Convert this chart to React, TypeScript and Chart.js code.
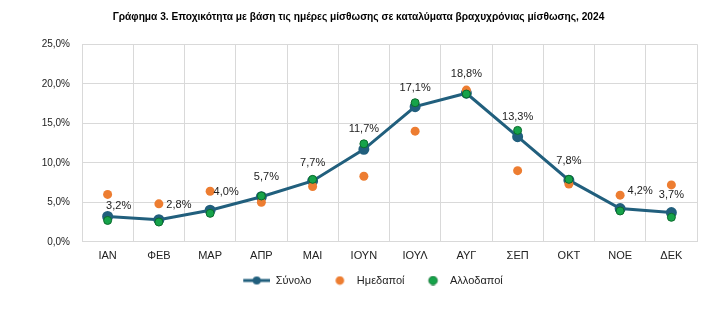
import React, { useEffect, useRef } from "react";
import { Chart, registerables } from "chart.js";

Chart.register(...registerables);

const titleText =
  "Γράφημα 3. Εποχικότητα με βάση τις ημέρες μίσθωσης σε καταλύματα βραχυχρόνιας μίσθωσης, 2024";
const months = ["ΙΑΝ", "ΦΕΒ", "ΜΑΡ", "ΑΠΡ", "ΜΑΙ", "ΙΟΥΝ", "ΙΟΥΛ", "ΑΥΓ", "ΣΕΠ", "ΟΚΤ", "ΝΟΕ", "ΔΕΚ"];
const totalValues = [3.2, 2.8, 4.0, 5.7, 7.7, 11.7, 17.1, 18.8, 13.3, 7.8, 4.2, 3.7];
const domesticValues = [6.0, 4.8, 6.4, 5.0, 7.0, 8.3, 14.0, 19.2, 9.0, 7.3, 5.9, 7.2];
const foreignValues = [2.7, 2.5, 3.6, 5.8, 7.9, 12.4, 17.6, 18.7, 14.1, 7.9, 3.9, 3.1];
const seriesNames = ["Σύνολο", "Ημεδαποί", "Αλλοδαποί"];

const FONT = "'Liberation Sans', Arial, sans-serif";
const LINE_COLOR = "#215f7d";
const ORANGE = "#ed7d31";
const GREEN = "#16a34a";
const GREEN_BORDER = "#0b6a2c";

// label offsets (dx, dy) relative to point, style only
const labelOffsets: [number, number][] = [
  [11, -11], [20, -15], [16, -18], [5, -20], [0, -18], [0, -20],
  [0, -19], [0, -19], [0, -20], [0, -19], [20, -18], [0, -18],
];

function fmt(v: number) {
  return v.toFixed(1).replace(".", ",") + "%";
}

const ICON_W = 36;

function makeLineIcon(): HTMLCanvasElement {
  const c = document.createElement("canvas");
  c.width = ICON_W;
  c.height = 10;
  const ctx = c.getContext("2d")!;
  ctx.strokeStyle = LINE_COLOR;
  ctx.lineWidth = 3;
  ctx.beginPath();
  ctx.moveTo(9, 5);
  ctx.lineTo(36, 5);
  ctx.stroke();
  ctx.fillStyle = LINE_COLOR;
  ctx.beginPath();
  ctx.arc(22.5, 5, 4, 0, Math.PI * 2);
  ctx.fill();
  return c;
}

function makeDotIcon(fill: string, stroke: string | null): HTMLCanvasElement {
  const c = document.createElement("canvas");
  c.width = ICON_W;
  c.height = 10;
  const ctx = c.getContext("2d")!;
  ctx.fillStyle = fill;
  ctx.beginPath();
  ctx.arc(24.5, 5, 4.3, 0, Math.PI * 2);
  ctx.fill();
  if (stroke) {
    ctx.strokeStyle = stroke;
    ctx.lineWidth = 0.8;
    ctx.stroke();
  }
  return c;
}

const labelPlugin = {
  id: "totalLabels",
  afterDatasetsDraw(chart: any) {
    const meta = chart.getDatasetMeta(0);
    const ctx = chart.ctx;
    ctx.save();
    ctx.font = `11px ${FONT}`;
    ctx.fillStyle = "#222";
    ctx.textAlign = "center";
    ctx.textBaseline = "middle";
    meta.data.forEach((pt: any, i: number) => {
      const [dx, dy] = labelOffsets[i];
      ctx.fillText(fmt(totalValues[i]), pt.x + dx, pt.y + dy);
    });
    ctx.restore();
  },
};

const boxShift = {
  id: "boxShift",
  afterLayout(chart: any) {
    if (chart.legend) {
      chart.legend.left += 16;
      chart.legend.right += 16;
    }
    if (chart.titleBlock) {
      chart.titleBlock.left += 6;
      chart.titleBlock.right += 6;
    }
  },
};

export default function App() {
  const ref = useRef<HTMLCanvasElement>(null);
  useEffect(() => {
    if (!ref.current) return;
    const icons = [
      makeLineIcon(),
      makeDotIcon(ORANGE, null),
      makeDotIcon(GREEN, GREEN_BORDER),
    ];
    const chart = new Chart(ref.current, {
      type: "line",
      data: {
        labels: months,
        datasets: [
          {
            label: seriesNames[0],
            data: totalValues,
            borderColor: LINE_COLOR,
            backgroundColor: LINE_COLOR,
            borderWidth: 3,
            pointRadius: 4,
            pointStyle: "circle",
            pointBackgroundColor: LINE_COLOR,
            pointBorderColor: LINE_COLOR,
            tension: 0,
            order: 3,
          },
          {
            label: seriesNames[1],
            data: domesticValues,
            showLine: false,
            borderColor: ORANGE,
            backgroundColor: ORANGE,
            pointRadius: 4.5,
            pointBorderWidth: 0,
            pointStyle: "circle",
            order: 2,
          },
          {
            label: seriesNames[2],
            data: foreignValues,
            showLine: false,
            borderColor: GREEN_BORDER,
            backgroundColor: GREEN,
            pointRadius: 4,
            pointBorderWidth: 1,
            pointStyle: "circle",
            order: 1,
          },
        ],
      },
      options: {
        animation: false,
        responsive: true,
        maintainAspectRatio: false,
        layout: { padding: { left: 0, right: 10, top: 0, bottom: 29 } },
        elements: { point: { hoverRadius: 4 } },
        plugins: {
          title: {
            display: true,
            text: titleText,
            color: "#000",
            font: { family: FONT, size: 10.2, weight: "bold" },
            padding: { top: 3, bottom: 21 },
          },
          legend: {
            position: "bottom",
            labels: {
              usePointStyle: true,
              pointStyleWidth: ICON_W,
              color: "#222",
              font: { family: FONT, size: 11 },
              boxHeight: 8,
              padding: 4,
              generateLabels(chart: any) {
                return chart.data.datasets.map((ds: any, i: number) => ({
                  text: ds.label,
                  fillStyle: ds.backgroundColor,
                  strokeStyle: ds.backgroundColor,
                  lineWidth: 0,
                  pointStyle: icons[i],
                  datasetIndex: i,
                  hidden: false,
                  fontColor: "#222",
                }));
              },
            },
          },
          tooltip: { enabled: false },
        },
        scales: {
          x: {
            offset: true,
            grid: { color: "#d9d9d9", offset: true, drawTicks: false },
            border: { color: "#d9d9d9" },
            ticks: { color: "#222", font: { family: FONT, size: 11 }, padding: 8 },
          },
          y: {
            min: 0,
            max: 25,
            grid: { color: "#d9d9d9", drawTicks: false },
            border: { display: false },
            ticks: {
              stepSize: 5,
              color: "#222",
              font: { family: FONT, size: 10 },
              padding: 12,
              callback: (v: any) => fmt(Number(v)),
            },
            afterFit(scale: any) {
              scale.width = 74;
            },
          },
        },
      },
      plugins: [labelPlugin, boxShift],
    });
    return () => chart.destroy();
  }, []);
  return (
    <div style={{ width: 699, height: 317, position: "relative" }}>
      <canvas ref={ref} />
    </div>
  );
}
